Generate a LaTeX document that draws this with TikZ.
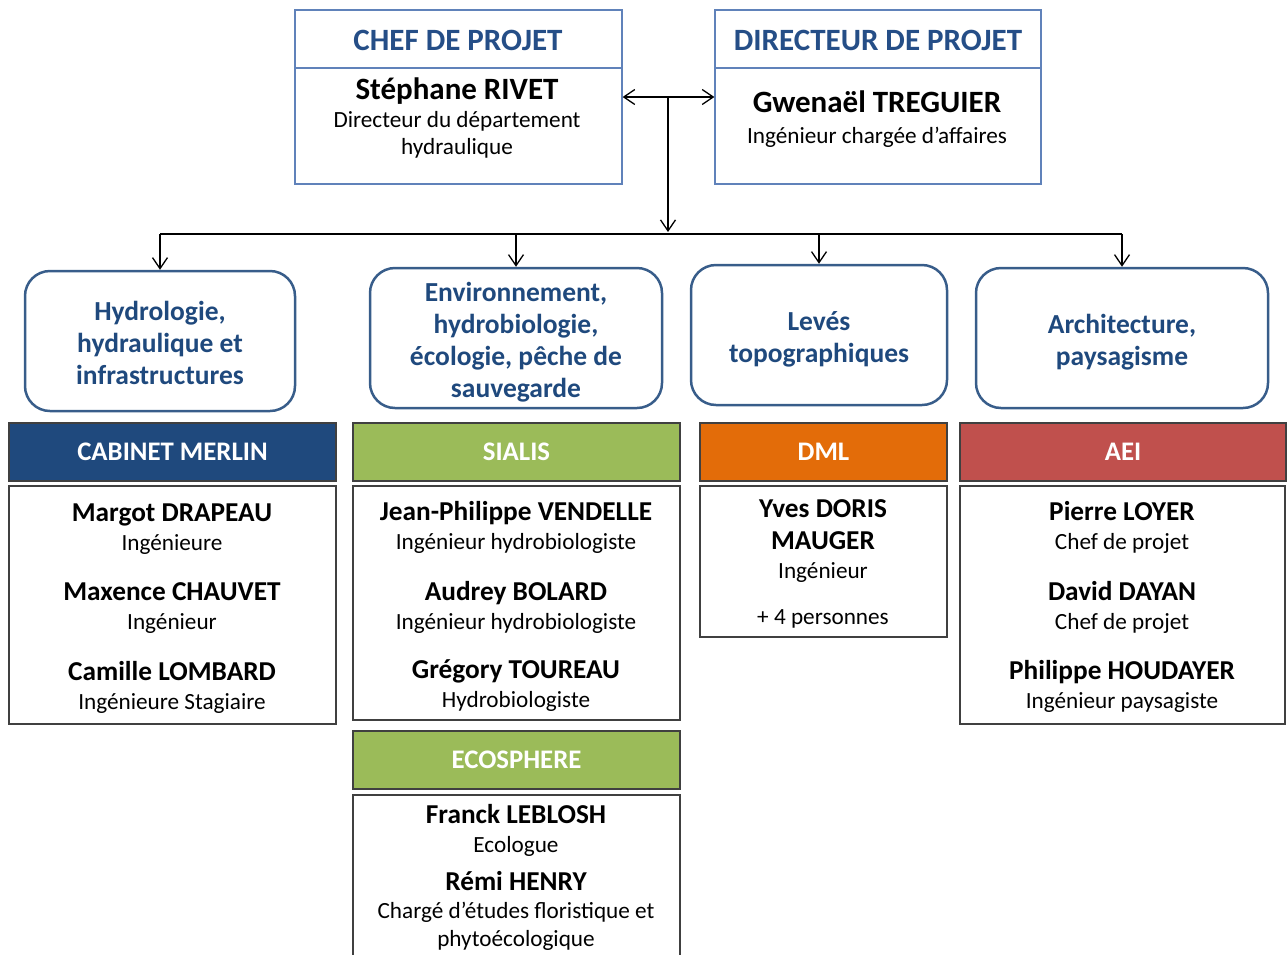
\documentclass[tikz,border=0pt]{standalone}
\usepackage{fontspec}
\setmainfont{Carlito}
\usetikzlibrary{arrows.meta}
\definecolor{headblue}{RGB}{37,78,135}
\definecolor{topline}{RGB}{96,130,186}
\definecolor{themeline}{RGB}{56,93,138}
\definecolor{themetext}{RGB}{31,73,125}
\definecolor{merlinfill}{RGB}{31,73,125}
\definecolor{greenfill}{RGB}{155,187,89}
\definecolor{dmlfill}{RGB}{227,108,9}
\definecolor{aeifill}{RGB}{192,80,77}
\newcommand{\fs}[2]{\fontsize{#1}{#2}\selectfont}
\newcommand{\who}[2]{{\bfseries\fs{27.3}{29}#1}\\#2}
\newcommand{\tup}{\rule{0pt}{29pt}}
\tikzset{
topbox/.style={draw=topline,line width=1.3pt,minimum width=327pt,minimum height=174pt},
themebox/.style={draw=themeline,line width=2.5pt,rounded corners=25pt,minimum height=140pt,text=themetext,font=\bfseries\fs{27.5}{32},align=center,
  execute at end node={\rule[-6pt]{0pt}{6pt}}},
firmbar/.style={fill=#1,draw=black!75,line width=1.3pt,minimum height=58pt,text=white,font=\bfseries\fs{26.8}{30}},
staffbox/.style={draw=black!75,line width=1.3pt},
person/.style={align=center,font=\fs{23.2}{29}},
>={Straight Barb[length=11pt,width=15pt]}
}
\begin{document}
\begin{tikzpicture}[x=1pt,y=-1pt,line width=1.3pt]
\useasboundingbox (0,0) rectangle (1288,954);
\node[topbox] (chef) at (458.5,97){};
\node[topbox,minimum width=326pt] (dir) at (878,97){};
\draw[topline,line width=1.3pt] (chef.west |- 0,68)--(chef.east |- 0,68);
\draw[topline,line width=1.3pt] (dir.west |- 0,68)--(dir.east |- 0,68);
\node[text=headblue,font=\bfseries\fs{31}{32}] (chefhead) at (458,40){CHEF DE PROJET};
\node[text=headblue,font=\bfseries\fs{31}{32}] (dirhead) at (878,40){DIRECTEUR DE PROJET};
\node[align=center,font=\fs{23.2}{27}] (chefname) at (457,118){{\bfseries\fs{31}{32}Stéphane RIVET}\\[1pt]Directeur du département\\hydraulique};
\node[align=center,font=\fs{23.2}{31}] (dirname) at (877,119){{\bfseries\fs{31}{32}Gwenaël TREGUIER}\\Ingénieur chargée d’affaires};
\coordinate (hub) at (668,97);
\coordinate (bus) at (668,234);
\draw[<->] (chef.east)--(dir.west);
\draw[->] (hub)--(668,232);
\node[themebox,minimum width=270pt] (hydro) at (160,341){\tup Hydrologie,\\hydraulique et\\infrastructures};
\node[themebox,minimum width=292pt] (env) at (516,338){\tup Environnement,\\hydrobiologie,\\écologie, pêche de\\sauvegarde};
\node[themebox,minimum width=256pt] (leves) at (819,335){\tup Levés\\topographiques};
\node[themebox,minimum width=292pt] (archi) at (1122,338){\tup Architecture,\\paysagisme};
\draw (hydro.north |- bus)--(archi.north |- bus);
\draw[->] (hydro.north |- bus)--(hydro.north);
\draw[->] (env.north |- bus)--(env.north);
\draw[->] (leves.north |- bus)--(leves.north);
\draw[->] (archi.north |- bus)--(archi.north);
\node[firmbar=merlinfill,minimum width=327pt] (merlin) at (172.5,452){CABINET MERLIN};
\node[firmbar=greenfill,minimum width=327pt] (sialis) at (516.5,452){SIALIS};
\node[firmbar=dmlfill,minimum width=247pt] (dml) at (823.5,452){DML};
\node[firmbar=aeifill,minimum width=326pt] (aei) at (1123,452){AEI};
\node[firmbar=greenfill,minimum width=327pt] (ecos) at (516.5,760){ECOSPHERE};
\node[staffbox,minimum width=327pt,minimum height=238pt] (merlinstaff) at (172.5,605){};
\node[staffbox,minimum width=327pt,minimum height=234pt] (sialisstaff) at (516.5,603){};
\node[staffbox,minimum width=247pt,minimum height=151pt] (dmlstaff) at (823.5,561.5){};
\node[staffbox,minimum width=325pt,minimum height=238pt] (aeistaff) at (1122.5,605){};
\node[staffbox,minimum width=327pt,minimum height=170pt] (ecosstaff) at (516.5,880){};
\node[person] (margot) at (172,529.5){\who{Margot DRAPEAU}{Ingénieure}};
\node[person] (maxence) at (172,608.5){\who{Maxence CHAUVET}{Ingénieur}};
\node[person] (camille) at (172,687.5){\who{Camille LOMBARD}{Ingénieure Stagiaire}};
\node[person] (jp) at (516,527.5){\who{Jean-Philippe VENDELLE}{Ingénieur hydrobiologiste}};
\node[person] (audrey) at (516,607){\who{Audrey BOLARD}{Ingénieur hydrobiologiste}};
\node[person] (gregory) at (516,686){\who{Grégory TOUREAU}{Hydrobiologiste}};
\node[person] (yves) at (823,541){{\bfseries\fs{27.3}{32}Yves DORIS}\\[3pt]{\bfseries\fs{27.3}{32}MAUGER}\\Ingénieur};
\node[person] (plus) at (823,619){+ 4 personnes};
\node[person] (pierre) at (1122,527.5){\who{Pierre LOYER}{Chef de projet}};
\node[person] (david) at (1122,607){\who{David DAYAN}{Chef de projet}};
\node[person] (philippe) at (1122,686){\who{Philippe HOUDAYER}{Ingénieur paysagiste}};
\node[person] (franck) at (516,830){\who{Franck LEBLOSH}{Ecologue}};
\node[person,font=\fs{23.2}{28}] (remi) at (516,911){\who{Rémi HENRY}{Chargé d’études floristique et\\phytoécologique}};
\end{tikzpicture}
\end{document}
